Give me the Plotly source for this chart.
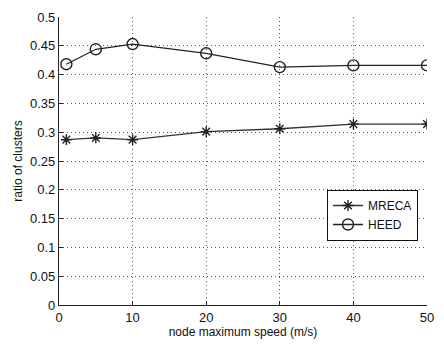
import plotly.graph_objects as go

speed = [1, 5, 10, 20, 30, 40, 50]
mreca = [0.287, 0.290, 0.287, 0.301, 0.306, 0.314, 0.314]
heed = [0.418, 0.444, 0.453, 0.437, 0.413, 0.416, 0.416]

x_ticks = [0, 10, 20, 30, 40, 50]
y_ticks = [0, 0.05, 0.1, 0.15, 0.2, 0.25, 0.3, 0.35, 0.4, 0.45, 0.5]
y_ticklabels = ["0", "0.05", "0.1", "0.15", "0.2", "0.25", "0.3", "0.35", "0.4", "0.45", "0.5"]

fig = go.Figure()
fig.add_trace(go.Scatter(x=speed, y=mreca, name="MRECA", mode="lines+markers",
                         line=dict(color="#333", width=1.3),
                         marker=dict(symbol="asterisk-open", size=9, color="#222",
                                     line=dict(width=1.4, color="#222"))))
fig.add_trace(go.Scatter(x=speed, y=heed, name="HEED", mode="lines+markers",
                         line=dict(color="#222", width=1.3),
                         marker=dict(symbol="circle-open", size=11, color="#222",
                                     line=dict(width=1.4, color="#222"))))

grid = dict(showgrid=True, gridcolor="#555", griddash="1px,3px", gridwidth=1)

fig.update_layout(
    width=444, height=347,
    margin=dict(l=59, r=10, t=12, b=42),
    paper_bgcolor="white", plot_bgcolor="white",
    font=dict(family="Liberation Sans, Arial, sans-serif", size=12, color="#111"),
    showlegend=True,
    legend=dict(x=0.975, y=0.40, xanchor="right", yanchor="top",
                bordercolor="#111", borderwidth=1.2, bgcolor="white",
                font=dict(size=12), tracegroupgap=0, itemwidth=30),
)
fig.update_xaxes(range=[0, 50], tickvals=x_ticks, showline=True, linecolor="#222", linewidth=1.2,
                 ticks="inside", ticklen=4, tickcolor="#222", **grid,
                 zeroline=False, title=dict(text="node maximum speed (m/s)", standoff=2,
                                            font=dict(size=12)),
                 tickfont=dict(size=13))
fig.update_yaxes(range=[0, 0.5], tickvals=y_ticks, ticktext=y_ticklabels, showline=True,
                 linecolor="#222", linewidth=1.2, ticks="inside", ticklen=4, tickcolor="#222",
                 **grid,
                 zeroline=False, title=dict(text="ratio of clusters", standoff=4,
                                            font=dict(size=12)),
                 tickfont=dict(size=13))

fig.write_html("out.html")
